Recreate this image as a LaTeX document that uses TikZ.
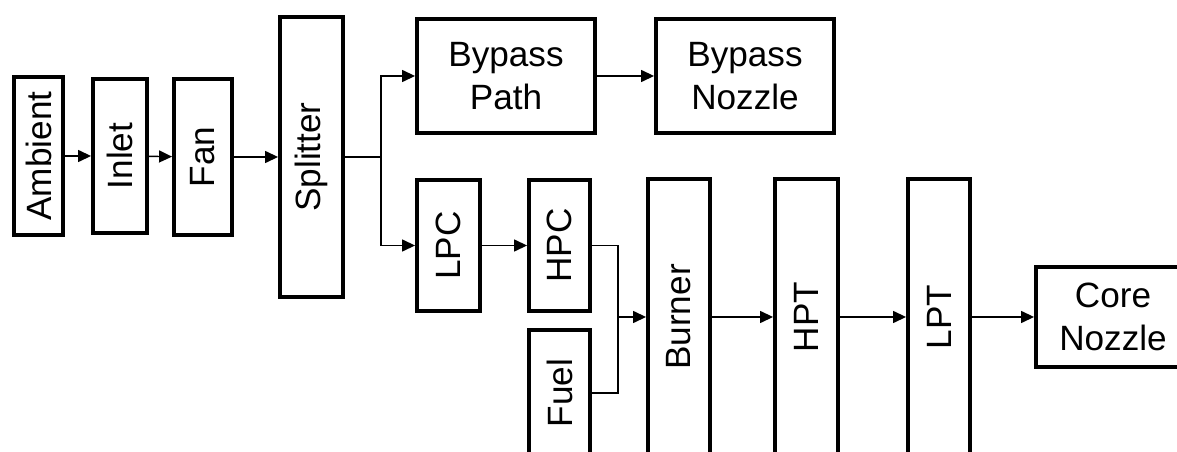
\documentclass[tikz,border=0pt]{standalone}
\usepackage{fontspec}
\setmainfont{Liberation Sans}
\usetikzlibrary{arrows.meta, positioning, calc}
\tikzset{
    % Box styles with sharp corners
    block/.style={
        rectangle,
        draw=black,
        fill=white,
        line width=2.2pt,
        inner sep=0pt,
        align=center,
        font=\fontsize{20}{24.5}\selectfont
    },
    block vertical/.style={
        block,
        minimum width=1.24cm
    },
    arrow style/.style={
        -{Triangle[length=0.26cm, width=0.24cm]},
        line width=0.8pt,
        black
    },
    line style/.style={
        line width=0.8pt,
        black
    }
}
\begin{document}
\begin{tikzpicture}
        \path[use as bounding box, clip] (0, 0) rectangle (23.54, -9.04);

        % Fan stream
        \node[block vertical, minimum width=0.98cm, minimum height=3.16cm, line width=2.6pt] (ambient) at (0.77, -3.12) {\rotatebox{90}{Ambient}};
        \node[block vertical, minimum width=1.08cm, minimum height=3.08cm] (inlet) at (2.40, -3.12) {\rotatebox{90}{Inlet}};
        \node[block vertical, minimum width=1.16cm, minimum height=3.12cm] (fan) at (4.06, -3.14) {\rotatebox{90}{Fan}};
        \node[block vertical, minimum width=1.26cm, minimum height=5.6cm] (splitter) at (6.23, -3.14) {\rotatebox{90}{Splitter}};

        % Bypass stream
        \node[block, minimum width=3.56cm, minimum height=2.28cm] (bypass) at (10.12, -1.52) {Bypass\\Path};
        \node[block, minimum width=3.56cm, minimum height=2.28cm] (bnozzle) at (14.90, -1.52) {Bypass\\Nozzle};

        % Core stream
        \node[block vertical, minimum width=1.26cm, minimum height=2.62cm] (lpc) at (8.97, -4.91) {\rotatebox{90}{LPC}};
        \node[block vertical, minimum width=1.22cm, minimum height=2.62cm] (hpc) at (11.19, -4.91) {\rotatebox{90}{HPC}};
        \node[block vertical, minimum width=1.22cm, minimum height=2.52cm] (fuel) at (11.19, -7.86) {\rotatebox{90}{Fuel}};
        \node[block vertical, minimum height=5.52cm] (burner) at (13.58, -6.34) {\rotatebox{90}{Burner}};
        \node[block vertical, minimum width=1.26cm, minimum height=5.52cm] (hpt) at (16.13, -6.34) {\rotatebox{90}{HPT}};
        \node[block vertical, minimum height=5.52cm] (lpt) at (18.78, -6.34) {\rotatebox{90}{LPT}};
        \node[block, minimum width=3.08cm, minimum height=2.0cm] (core) at (22.26, -6.34) {Core\\Nozzle};

        \coordinate (mix) at (12.36, -6.34);

        % Arrows
        \draw[arrow style] (ambient) -- (inlet);
        \draw[arrow style] (inlet) -- (fan);
        \draw[arrow style] (fan) -- (splitter);
        \draw[arrow style] (splitter.east) -- ++(0.72, 0) |- (bypass.west);
        \draw[arrow style] (splitter.east) -- ++(0.72, 0) |- (lpc.west);
        \draw[arrow style] (bypass) -- (bnozzle);
        \draw[arrow style] (lpc) -- (hpc);

        % Fuel mixing
        \draw[line style] (hpc.east) -| (mix);
        \draw[line style] (fuel.east) -| (mix);
        \draw[arrow style] (mix) -- (burner.west);

        \draw[arrow style] (burner) -- (hpt);
        \draw[arrow style] (hpt) -- (lpt);
        \draw[arrow style] (lpt) -- (core);
    \end{tikzpicture}
\end{document}
